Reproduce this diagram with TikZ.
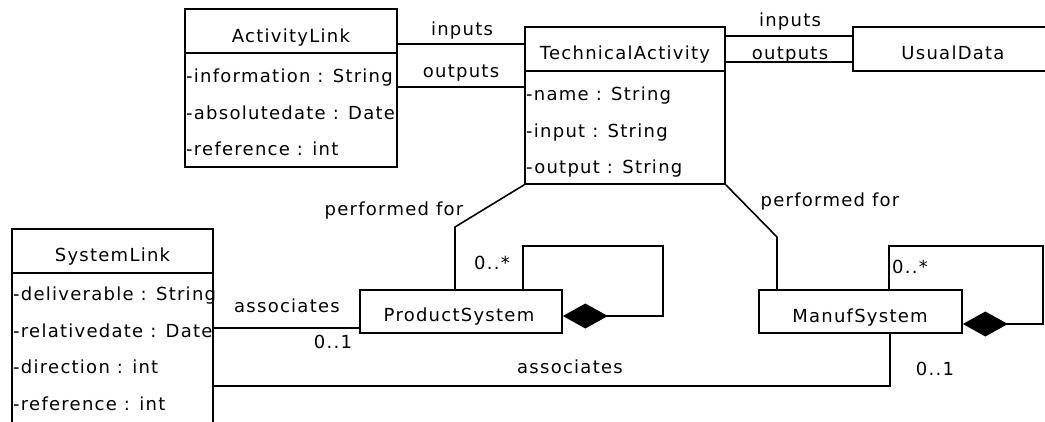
\documentclass[tikz,border=0pt]{standalone}
\usepackage{fontspec}
\setmainfont{DejaVu Sans}[LetterSpace=7]
\usetikzlibrary{arrows.meta}
\begin{document}
\begin{tikzpicture}[x=1pt,y=-1pt,
  every node/.style={font=\fontsize{18}{21}\selectfont},
  cbox/.style={draw, line width=1.7pt, rectangle, inner sep=0pt},
  conn/.style={line width=1.6pt},
  lbl/.style={inner sep=0pt, anchor=base},
  attr/.style={inner sep=0pt, anchor=base west},
  comp/.style={{Diamond[length=45pt,width=25pt,line width=0pt]}-}
]
\useasboundingbox (0,0) rectangle (1045,421);
\clip (0,0) rectangle (1045,421);
\fill[white] (0,0) rectangle (1045,421);

% boxes
\node[cbox, minimum width=212pt, minimum height=158pt] (AL) at (291,88) {};
\node[cbox, minimum width=200pt, minimum height=157pt] (TA) at (625,105.5) {};
\node[cbox, minimum width=200pt, minimum height=44pt] (UD) at (953,49) {};
\node[cbox, minimum width=201pt, minimum height=211pt] (SL) at (112.5,334.5) {};
\node[cbox, minimum width=202pt, minimum height=43pt] (PS) at (461,311.5) {};
\node[cbox, minimum width=203pt, minimum height=43pt] (MS) at (860.5,311.5) {};

% header separators
\draw[line width=1.7pt] (AL.west |- 0,53) -- (AL.east |- 0,53);
\draw[line width=1.7pt] (TA.west |- 0,71) -- (TA.east |- 0,71);
\draw[line width=1.7pt] (SL.west |- 0,273) -- (SL.east |- 0,273);

% titles
\node[lbl] (ALt) at (291,42) {ActivityLink};
\node[lbl] (TAt) at (625,59) {TechnicalActivity};
\node[lbl] (UDt) at (953,59) {UsualData};
\node[lbl] (SLt) at (112.5,261) {SystemLink};
\node[lbl] (PSt) at (459,321) {ProductSystem};
\node[lbl] (MSt) at (860,322) {ManufSystem};

% attributes
\node[attr] (al1) at (186,82) {-information : String};
\node[attr] (al2) at (186,119) {-absolutedate : Date};
\node[attr] (al3) at (186,155) {-reference : int};
\node[attr] (ta1) at (526,100) {-name : String};
\node[attr] (ta2) at (526,137) {-input : String};
\node[attr] (ta3) at (526,173) {-output : String};
\node[attr] (sl1) at (13,300) {-deliverable : String};
\node[attr] (sl2) at (13,337) {-relativedate : Date};
\node[attr] (sl3) at (13,373) {-direction : int};
\node[attr] (sl4) at (13,410) {-reference : int};

% connectors
\draw[conn] (AL.east |- 0,44) -- (TA.west |- 0,44);
\draw[conn] (AL.east |- 0,87) -- (TA.west |- 0,87);
\draw[conn] (TA.east |- 0,36) -- (UD.west |- 0,36);
\draw[conn] (TA.east |- 0,62) -- (UD.west |- 0,62);
\coordinate (pf1) at (455,227);
\coordinate (pf2) at (777,237);
\draw[conn] (TA.south west) -- (pf1) -- (PS.north -| pf1);
\draw[conn] (TA.south east) -- (pf2) -- (MS.north -| pf2);
\coordinate (l1a) at (663,316);
\coordinate (l1b) at (663,246);
\coordinate (l1c) at (523,246);
\draw[conn, comp] (PS.east |- l1a) -- (l1a) -- (l1b) -- (l1c) -- (PS.north -| l1c);
\coordinate (l2a) at (1043,324);
\coordinate (l2b) at (1043,246);
\coordinate (l2c) at (889,246);
\draw[conn, comp] (MS.east |- l2a) -- (l2a) -- (l2b) -- (l2c) -- (MS.north -| l2c);
\draw[conn] (SL.east |- 0,328) -- (PS.west |- 0,328);
\coordinate (a2) at (890,386);
\draw[conn] (SL.east |- a2) -- (a2) -- (MS.south -| a2);

% connector labels
\node[lbl] (i1) at (462,35) {inputs};
\node[lbl] (o1) at (461,77) {outputs};
\node[lbl] (i2) at (790,26) {inputs};
\node[lbl] (o2) at (790,59) {outputs};
\node[lbl] (pfl) at (394,215) {performed for};
\node[lbl] (pfr) at (830,206) {performed for};
\node[lbl] (m1) at (492,269) {0..*};
\node[lbl] (m2) at (910,273) {0..*};
\node[lbl] (as1) at (287,312) {associates};
\node[lbl] (z1) at (333,348) {0..1};
\node[lbl] (as2) at (570,373) {associates};
\node[lbl] (z2) at (935,375) {0..1};
\end{tikzpicture}
\end{document}
